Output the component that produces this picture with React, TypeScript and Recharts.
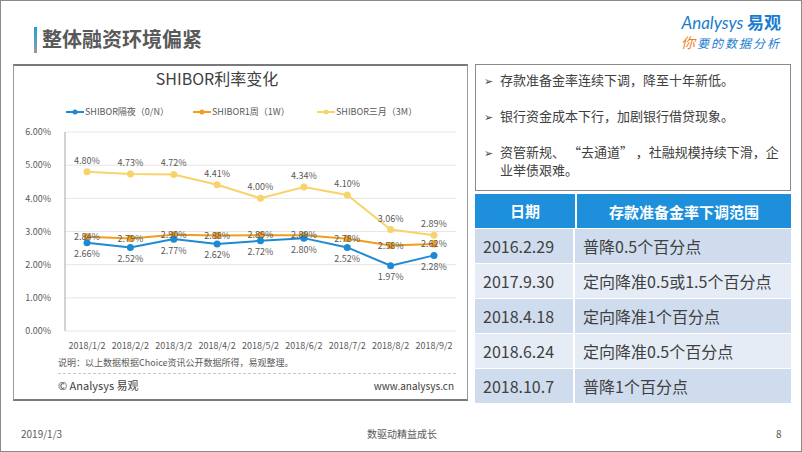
import { LineChart, Line, XAxis, YAxis, CartesianGrid, LabelList } from "recharts"

const months = ["2018/1/2", "2018/2/2", "2018/3/2", "2018/4/2", "2018/5/2", "2018/6/2", "2018/7/2", "2018/8/2", "2018/9/2"]
const overnight = [2.66, 2.52, 2.77, 2.62, 2.72, 2.8, 2.52, 1.97, 2.28]
const oneWeek = [2.84, 2.79, 2.9, 2.88, 2.89, 2.89, 2.78, 2.58, 2.62]
const threeMonth = [4.8, 4.73, 4.72, 4.41, 4.0, 4.34, 4.1, 3.06, 2.89]
const yTicks = [0, 1, 2, 3, 4, 5, 6]

const seriesNames = ["SHIBOR隔夜（0/N）", "SHIBOR1周（1W）", "SHIBOR三月（3M）"]
const seriesColors = ["#1d8ad4", "#f29d1c", "#f7d46a"]

const bullets = ["存款准备金率连续下调，降至十年新低。", "银行资金成本下行，加剧银行借贷现象。", "资管新规、 “去通道” ，社融规模持续下滑，企\n业举债艰难。"]
const tableHead = ["日期", "存款准备金率下调范围"]
const tableDates = ["2016.2.29", "2017.9.30", "2018.4.18", "2018.6.24", "2018.10.7"]
const tableCuts = ["普降0.5个百分点", "定向降准0.5或1.5个百分点", "定向降准1个百分点", "定向降准0.5个百分点", "普降1个百分点"]

const FONT = '"Noto Sans CJK SC", "Noto Sans", sans-serif'

const chartData = months.map((m, i) => ({
  month: m,
  on: overnight[i],
  w1: oneWeek[i],
  m3: threeMonth[i],
}))

const fmt = (v: any) => `${Number(v).toFixed(2)}%`

const ChartLegend = () => {
  const lefts = [65, 192, 316]
  return (
    <div style={{ position: "absolute", left: 0, top: 104, height: 14 }}>
      {seriesNames.map((name, i) => (
        <div key={name} style={{ position: "absolute", left: lefts[i], top: 0, display: "flex", alignItems: "center", fontSize: 9, color: "#595959", fontFamily: FONT, whiteSpace: "nowrap" }}>
          <svg width={18} height={8}>
            <line x1={0} y1={4} x2={18} y2={4} stroke={seriesColors[i]} strokeWidth={2} />
            <circle cx={9} cy={4} r={2.5} fill={seriesColors[i]} />
          </svg>
          <span style={{ marginLeft: 1 }}>{name}</span>
        </div>
      ))}
    </div>
  )
}

export default function App() {
  return (
    <div style={{ position: "absolute", left: 0, top: 0, width: 802, height: 452, background: "#fff", boxSizing: "border-box", border: "1px solid #8a8a8a", fontFamily: FONT, overflow: "hidden" }}>
      {/* title */}
      <div style={{ position: "absolute", left: 33, top: 26, width: 3, height: 26, background: "linear-gradient(#1aa0e0, #9a9a9a)" }} />
      <div style={{ position: "absolute", left: 41, top: 23, fontSize: 20, fontWeight: 700, color: "#595959" }}>整体融资环境偏紧</div>

      {/* logo */}
      <div style={{ position: "absolute", right: 20, top: 10, textAlign: "right" }}>
        <div style={{ color: "#1a7ccf", fontSize: 17, fontStyle: "italic", lineHeight: "22px" }}>
          <span style={{ fontFamily: "Lato, sans-serif" }}>Analysys</span> <span style={{ fontWeight: 700, fontStyle: "normal" }}>易观</span>
        </div>
        <div style={{ fontSize: 12, fontStyle: "italic", lineHeight: "16px", letterSpacing: 2 }}>
          <span style={{ color: "#f07f20", fontSize: 14 }}>你</span>
          <span style={{ color: "#1a7ccf" }}>要的数据分析</span>
        </div>
      </div>

      {/* chart panel */}
      <div style={{ position: "absolute", left: 12, top: 63, width: 455, height: 337, boxSizing: "border-box", borderTop: "2px solid #7a7a7a", borderLeft: "1px solid #9a9a9a", borderRight: "1px solid #9a9a9a", borderBottom: "2px solid #7a7a7a" }} />
      <div style={{ position: "absolute", left: 0, width: 432, top: 65, textAlign: "center", fontSize: 16, color: "#404040" }}>SHIBOR利率变化</div>
      <ChartLegend />

      <div style={{ position: "absolute", left: 0, top: 0 }}>
        <LineChart width={470} height={360} data={chartData} margin={{ top: 131, right: 15, bottom: 0, left: 14 }}>
          <CartesianGrid vertical={false} stroke="#e6e6e6" />
          <XAxis dataKey="month" height={30} padding={{ left: 22, right: 22 }} tickLine={false} axisLine={false} tick={{ fontSize: 9, fill: "#595959", fontFamily: FONT }} interval={0} tickMargin={6} />
          <YAxis domain={[0, 6]} ticks={yTicks} width={50} tickFormatter={fmt} tickLine={false} axisLine={{ stroke: "#a6a6a6" }} tick={{ fontSize: 9, fill: "#595959", fontFamily: FONT }} tickMargin={8} />
          <Line dataKey="m3" name={seriesNames[2]} stroke={seriesColors[2]} strokeWidth={2} dot={{ r: 2.5, fill: seriesColors[2], stroke: seriesColors[2] }} isAnimationActive={false}>
            <LabelList dataKey="m3" position="top" offset={8} formatter={fmt} style={{ fontSize: 9, fill: "#595959", fontFamily: FONT }} />
          </Line>
          <Line dataKey="w1" name={seriesNames[1]} stroke={seriesColors[1]} strokeWidth={2} dot={{ r: 2.5, fill: seriesColors[1], stroke: seriesColors[1] }} isAnimationActive={false}>
            <LabelList dataKey="w1" position="center" formatter={fmt} style={{ fontSize: 9, fill: "#595959", fontFamily: FONT }} />
          </Line>
          <Line dataKey="on" name={seriesNames[0]} stroke={seriesColors[0]} strokeWidth={2} dot={{ r: 2.5, fill: seriesColors[0], stroke: seriesColors[0] }} isAnimationActive={false}>
            <LabelList dataKey="on" position="bottom" offset={8} formatter={fmt} style={{ fontSize: 9, fill: "#595959", fontFamily: FONT }} />
          </Line>
        </LineChart>
      </div>

      <div style={{ position: "absolute", left: 57, top: 355, fontSize: 9, color: "#595959" }}>说明：以上数据根据Choice资讯公开数据所得，易观整理。</div>
      <div style={{ position: "absolute", left: 57, top: 372, width: 398, borderTop: "1px dashed #c8c8c8" }} />
      <div style={{ position: "absolute", left: 57, top: 376, fontSize: 11, color: "#404040" }}>© Analysys 易观</div>
      <div style={{ position: "absolute", right: 802 - 455, top: 377, fontSize: 10, color: "#404040" }}>www.analysys.cn</div>

      {/* bullets */}
      <div style={{ position: "absolute", left: 474, top: 63, width: 316, height: 127, boxSizing: "border-box", border: "1px solid #8a8a8a", padding: "6px 4px 0 8px" }}>
        {bullets.map((b) => (
          <div key={b} style={{ display: "flex", fontSize: 13, color: "#404040", lineHeight: "18px", marginBottom: 18 }}>
            <span style={{ width: 16, flexShrink: 0, fontSize: 11 }}>➢</span>
            <span style={{ whiteSpace: "pre-wrap" }}>{b}</span>
          </div>
        ))}
      </div>

      {/* table */}
      <div style={{ position: "absolute", left: 474, top: 193, width: 316 }}>
        <div style={{ display: "flex", height: 34, background: "#1d8fdb", color: "#fff", fontWeight: 700, fontSize: 15, alignItems: "center" }}>
          <div style={{ width: 100, textAlign: "center", borderRight: "2px solid #fff", height: "100%", lineHeight: "34px" }}>{tableHead[0]}</div>
          <div style={{ flex: 1, textAlign: "center" }}>{tableHead[1]}</div>
        </div>
        {tableDates.map((d, i) => (
          <div key={d} style={{ display: "flex", height: 35, boxSizing: "border-box", background: i % 2 === 0 ? "#cfdcee" : "#e5ecf6", borderTop: "1px solid #fff", fontSize: 16, color: "#404040", alignItems: "center" }}>
            <div style={{ width: 100, paddingLeft: 8, boxSizing: "border-box", borderRight: "2px solid #fff", height: "100%", lineHeight: "34px" }}>{d}</div>
            <div style={{ flex: 1, paddingLeft: 8 }}>{tableCuts[i]}</div>
          </div>
        ))}
      </div>

      {/* footer */}
      <div style={{ position: "absolute", left: 20, top: 425, fontSize: 10, color: "#595959" }}>2019/1/3</div>
      <div style={{ position: "absolute", left: 0, width: 802, top: 425, textAlign: "center", fontSize: 10, color: "#595959" }}>数驱动精益成长</div>
      <div style={{ position: "absolute", left: 775, top: 425, fontSize: 10, color: "#595959" }}>8</div>
    </div>
  )
}
